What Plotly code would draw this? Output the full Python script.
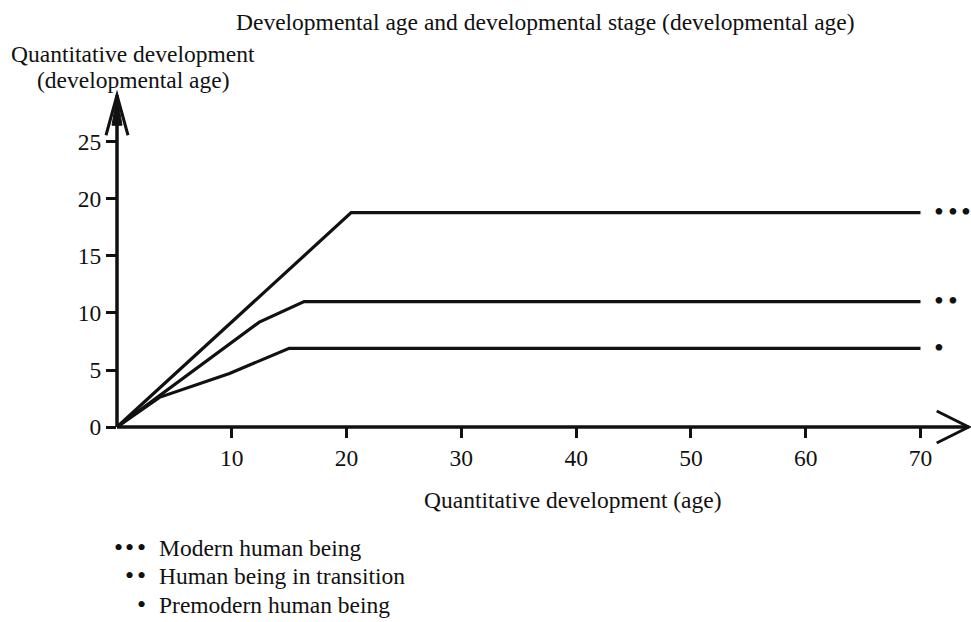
import plotly.graph_objects as go

# ---------------- data ----------------
series_names = ["Modern human being", "Human being in transition", "Premodern human being"]
series_dot_counts = [3, 2, 1]
modern_x = [0, 20.4, 70]
modern_y = [0, 18.8, 18.8]
transition_x = [0, 12.4, 16.3, 70]
transition_y = [0, 9.2, 11.0, 11.0]
premodern_x = [0, 3.7, 9.8, 15.0, 70]
premodern_y = [0, 2.6, 4.7, 6.9, 6.9]
x_ticks = [10, 20, 30, 40, 50, 60, 70]
y_ticks = [0, 5, 10, 15, 20, 25]
title_text = "Developmental age and developmental stage (developmental age)"
y_title_1 = "Quantitative development"
y_title_2 = "(developmental age)"
x_title = "Quantitative development (age)"

# ---------------- layout geometry ----------------
W, H = 971, 622
ML, MR, MT, MB = 117, 0, 90, 195
PW, PH = W - ML - MR, H - MT - MB
X_RANGE = [0, 74.4]
Y_RANGE = [0, 29.56]
X_TIP = 74.2
Y_TIP = 29.1

FONT = "Liberation Serif, Times New Roman, serif"
INK = "#111111"
FS = 23.5


def dx(x):
    return (x - X_RANGE[0]) / (X_RANGE[1] - X_RANGE[0])


def dy(y):
    return (y - Y_RANGE[0]) / (Y_RANGE[1] - Y_RANGE[0])


def px(p):
    return (p - ML) / PW


def py(p):
    return (H - MB - p) / PH


fig = go.Figure()
for xs, ys, name in [(modern_x, modern_y, series_names[0]),
                     (transition_x, transition_y, series_names[1]),
                     (premodern_x, premodern_y, series_names[2])]:
    fig.add_trace(go.Scatter(x=xs, y=ys, mode="lines", name=name,
                             line=dict(color=INK, width=3.2), showlegend=False,
                             hoverinfo="skip"))

shapes = []
# axis shafts
shapes.append(dict(type="line", xref="paper", yref="paper", x0=dx(0), y0=dy(0),
                   x1=dx(X_TIP), y1=dy(0), line=dict(color=INK, width=3.5)))
shapes.append(dict(type="line", xref="paper", yref="paper", x0=dx(0), y0=dy(0),
                   x1=dx(0), y1=dy(Y_TIP), line=dict(color=INK, width=3.5)))
# x arrow chevron
ax_len, ax_half = 32 / PW, 16 / PH
tx, ty = dx(X_TIP), dy(0)
shapes.append(dict(type="path", xref="paper", yref="paper",
                   path=f"M{tx-ax_len},{ty+ax_half} L{tx},{ty} L{tx-ax_len},{ty-ax_half}",
                   line=dict(color=INK, width=3)))
# y arrow (narrow wedge)
ay_len, ay_half = 40 / PH, 11 / PW
tx, ty = dx(0), dy(Y_TIP)
shapes.append(dict(type="path", xref="paper", yref="paper",
                   path=f"M{tx-ay_half},{ty-ay_len} L{tx},{ty} L{tx+ay_half},{ty-ay_len}",
                   line=dict(color=INK, width=3)))
shapes.append(dict(type="path", xref="paper", yref="paper",
                   path=f"M{tx-5/PW},{ty-30/PH} L{tx},{ty} L{tx+5/PW},{ty-30/PH} Z",
                   fillcolor=INK, line=dict(color=INK, width=1)))

annotations = []
DOT_STEP = 13.5
# series end marks: dots after each line end
for xs, ys, n in [(modern_x, modern_y, series_dot_counts[0]),
                  (transition_x, transition_y, series_dot_counts[1]),
                  (premodern_x, premodern_y, series_dot_counts[2])]:
    for k in range(n):
        annotations.append(dict(x=xs[-1], y=ys[-1], xref="x", yref="y",
                                text="•", showarrow=False,
                                xanchor="center", yanchor="middle",
                                xshift=19 + k * DOT_STEP, yshift=1,
                                font=dict(family=FONT, size=28, color=INK)))
# titles
annotations.append(dict(x=px(545), y=py(22), xref="paper", yref="paper",
                        text=title_text, showarrow=False, xanchor="center", yanchor="middle",
                        font=dict(family=FONT, size=FS, color=INK)))
annotations.append(dict(x=px(133), y=py(54), xref="paper", yref="paper",
                        text=y_title_1, showarrow=False, xanchor="center", yanchor="middle",
                        font=dict(family=FONT, size=FS, color=INK)))
annotations.append(dict(x=px(133), y=py(80), xref="paper", yref="paper",
                        text=y_title_2, showarrow=False, xanchor="center", yanchor="middle",
                        font=dict(family=FONT, size=FS, color=INK)))
annotations.append(dict(x=px(573), y=py(500), xref="paper", yref="paper",
                        text=x_title, showarrow=False, xanchor="center", yanchor="middle",
                        font=dict(family=FONT, size=FS, color=INK)))
# legend
legend_rows = [548, 576, 605]
LEG_DOT_STEP = 11.5
LEG_LAST_DOT = 141
for name, n, row in zip(series_names, series_dot_counts, legend_rows):
    for k in range(n):
        annotations.append(dict(x=px(LEG_LAST_DOT - k * LEG_DOT_STEP), y=py(row),
                                xref="paper", yref="paper",
                                text="•", showarrow=False,
                                xanchor="center", yanchor="middle", yshift=1,
                                font=dict(family=FONT, size=26, color=INK)))
    annotations.append(dict(x=px(157), y=py(row), xref="paper", yref="paper",
                            text=name, showarrow=False,
                            xanchor="left", yanchor="middle",
                            font=dict(family=FONT, size=FS, color=INK)))

fig.update_layout(
    width=W, height=H,
    margin=dict(l=ML, r=MR, t=MT, b=MB),
    paper_bgcolor="white", plot_bgcolor="white",
    showlegend=False,
    shapes=shapes, annotations=annotations,
    xaxis=dict(range=X_RANGE, tickvals=x_ticks, ticktext=[str(v) for v in x_ticks],
               showgrid=False, zeroline=False, showline=False,
               ticks="outside", ticklen=10, tickwidth=3, tickcolor=INK,
               tickfont=dict(family=FONT, size=FS, color=INK), fixedrange=True),
    yaxis=dict(range=Y_RANGE, tickvals=y_ticks, ticktext=[str(v) for v in y_ticks],
               showgrid=False, zeroline=False, showline=False,
               ticks="outside", ticklen=10, tickwidth=3, tickcolor=INK,
               tickfont=dict(family=FONT, size=FS, color=INK), fixedrange=True),
)

fig.write_html("out.html", config={"displayModeBar": False},
               post_script="document.body.style.margin='0';document.body.style.overflow='hidden';")
